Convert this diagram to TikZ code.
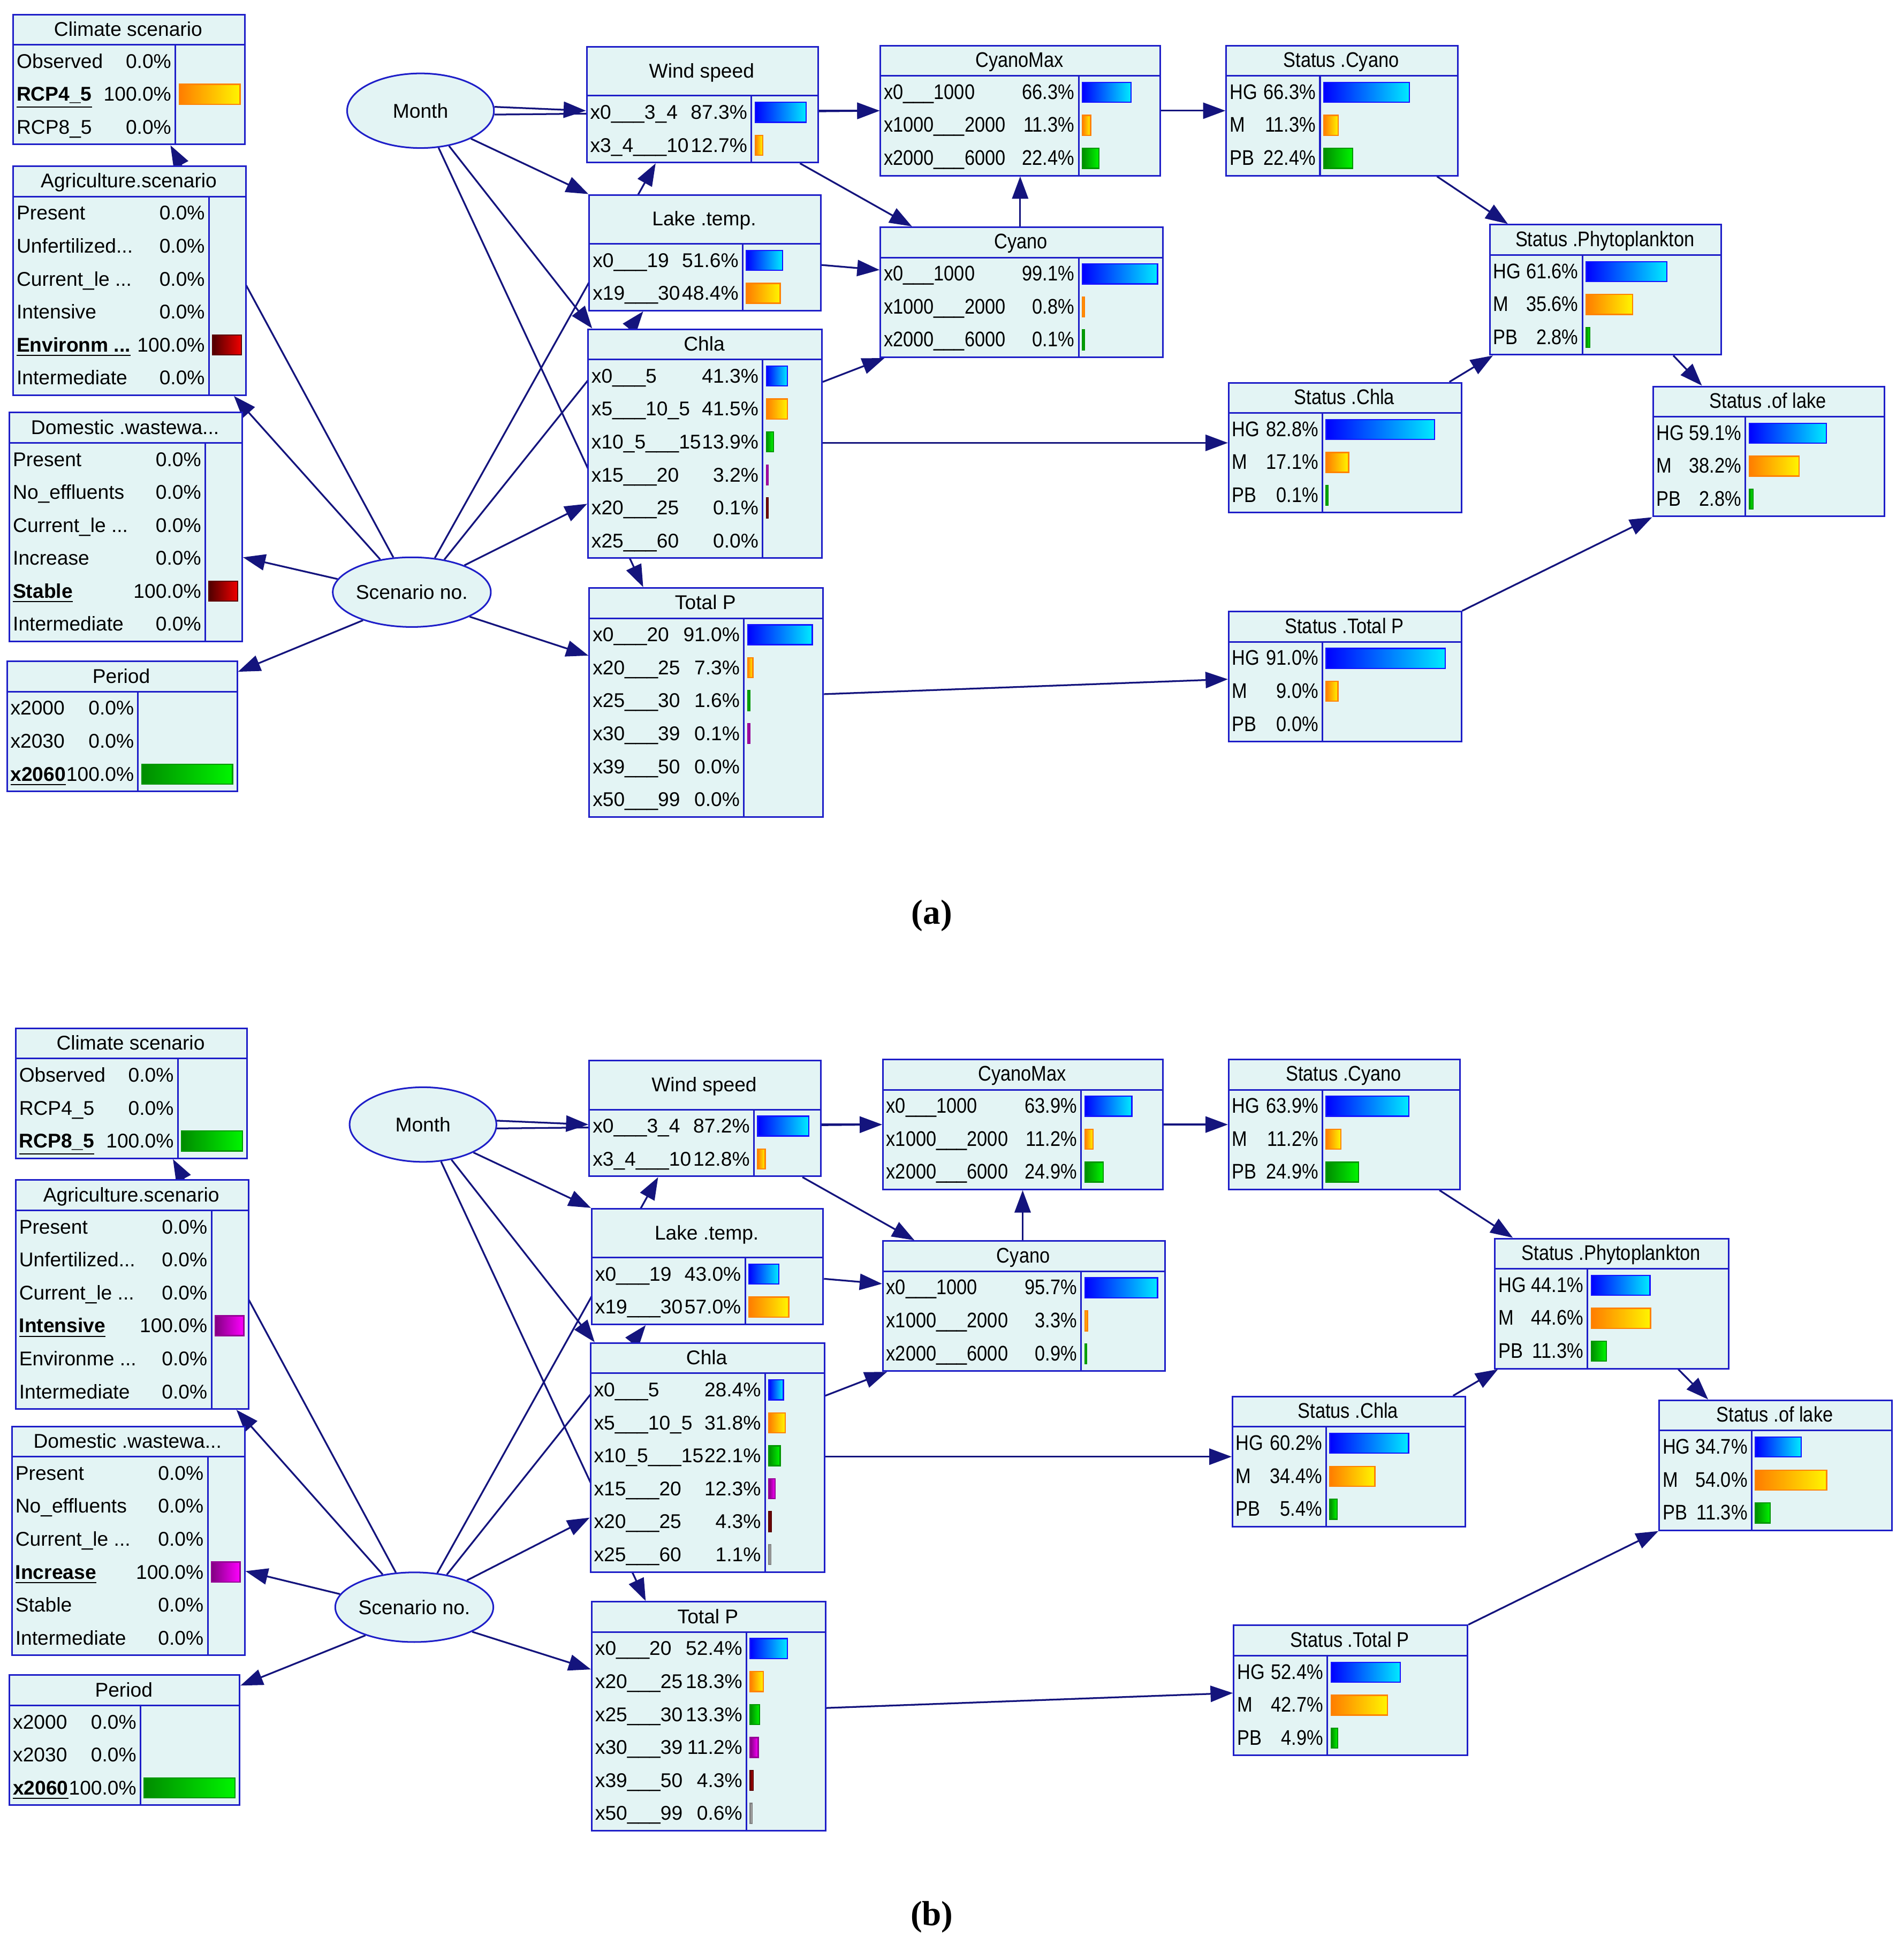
\documentclass[tikz,border=0pt]{standalone}
\usepackage{fontspec}
\setmainfont{Liberation Sans}
\newfontfamily\narrowf{Liberation Sans}[FakeStretch=0.87]
\newfontfamily\capf{Liberation Serif}
\usetikzlibrary{shapes.geometric,arrows.meta,calc,backgrounds}
\definecolor{boxfill}{RGB}{227,244,244}
\definecolor{boxdraw}{RGB}{30,30,200}
\definecolor{edgec}{RGB}{20,20,125}
\newcommand\fa{\fontsize{8}{9.6}\selectfont}
\newcommand\fn{\narrowf\fontsize{8.5}{10}\selectfont}
\let\bnf\fa
\newcommand\bu[1]{\underline{\textbf{#1}}}
\newcommand\ddd{...}
\newcommand\us{\_\_\_}
\def\ox{0}\def\oy{0}
\tikzset{
 bnbox/.style={draw=boxdraw,fill=boxfill,line width=0.65pt,rectangle,inner sep=0},
 bnline/.style={draw=boxdraw,line width=0.65pt},
 ell/.style={ellipse,draw=boxdraw,fill=boxfill,line width=0.65pt,font=\fa,minimum width=59pt,minimum height=30pt,inner sep=0},
 ed/.style={draw=edgec,line width=0.7pt},
 ar/.style={ed,-{Triangle[length=9pt,width=6.5pt]}},
 gb/.style={left color={rgb,255:red,0;green,0;blue,255},right color={rgb,255:red,0;green,235;blue,255},draw={rgb,255:red,20;green,20;blue,255},line width=0.5pt},
 go/.style={left color={rgb,255:red,255;green,125;blue,0},right color={rgb,255:red,255;green,245;blue,0},draw={rgb,255:red,255;green,130;blue,0},line width=0.5pt},
 gg/.style={left color={rgb,255:red,0;green,140;blue,0},right color={rgb,255:red,0;green,245;blue,0},draw={rgb,255:red,0;green,150;blue,0},line width=0.5pt},
 gp/.style={left color={rgb,255:red,130;green,0;blue,130},right color={rgb,255:red,255;green,0;blue,255},draw={rgb,255:red,150;green,0;blue,150},line width=0.5pt},
 gr/.style={left color={rgb,255:red,80;green,0;blue,0},right color={rgb,255:red,240;green,0;blue,0},draw={rgb,255:red,90;green,0;blue,0},line width=0.5pt},
 gs/.style={left color=gray!70,right color=gray!20,draw=gray,line width=0.5pt},
}
\newcommand\bn[9]{%
 \pgfmathsetmacro\bx{#2+\ox}\pgfmathsetmacro\by{#3+\oy}%
 \pgfmathsetmacro\bh{#6+#7*26.5}%
 \node[bnbox,anchor=north west,minimum width=#4*0.5pt,minimum height=\bh*0.5pt] (#1) at (\bx,\by) {};
 \draw[bnline] ({\bx},{\by+#6}) -- ++(#4,0);
 \draw[bnline] ({\bx+#5},{\by+#6}) -- ({\bx+#5},{\by+\bh});
 \node[font=\bnf,inner sep=0,anchor=base] at ({\bx+#4/2},{\by+#6/2+5.5}) {#8};
 \foreach \lab/\val/\col [count=\i] in {#9} {
   \pgfmathsetmacro\yc{\by+#6+(\i-0.5)*26.5}
   \node[font=\bnf,inner sep=0,anchor=base west] at ({\bx+3},{\yc+5.5}) {\lab};
   \node[font=\bnf,inner sep=0,anchor=base east] at ({\bx+#5-3},{\yc+5.5}) {\val\%};
   \ifdim\val pt>0pt
     \pgfmathsetmacro\bl{max(\val/100*(#4-#5-6),1.5)}
     \path[\col] ({\bx+#5+3},{\yc-8}) rectangle ++(\bl,16);
   \fi
 }}
\newcommand\edges[1]{%
 \draw[ar] (month#1.3) -- ($(wind#1.north west)+(0,52)$);
 \draw[ar] (month#1.-3) -- ($(cmax#1.north west)+(0,53)$);
 \draw[ar] ($(wind#1.north east)+(0,52)$) -- ($(cmax#1.north west)+(0,53)$);
 \draw[ar] (month#1.-29) -- (lake#1.north west);
 \draw[ar] (month#1.-51) -- ($(chla#1.north west)+(4,0)$);
 \draw[ar] (month#1.-64) -- ($(totp#1.north west)+(44,0)$);
 \draw[ar] (scen#1.118) -- ($(clim#1.south west)+(127,0)$);
 \draw[ar] (scen#1.134) -- ($(agri#1.south west)+(178,0)$);
 \draw[ar] (scen#1.170) -- ($(dom#1.north east)+(0,117)$);
 \draw[ar] (scen#1.210) -- ($(per#1.north east)+(0,9)$);
 \draw[ar] (scen#1.56) -- ($(wind#1.south west)+(56,0)$);
 \draw[ar] (scen#1.45) -- ($(lake#1.south west)+(44,0)$);
 \draw[ar] (scen#1.27) -- ($(chla#1.north west)+(0,141)$);
 \draw[ar] (scen#1.-23) -- ($(totp#1.north west)+(0,55)$);
 \draw[ar] ($(wind#1.south west)+(172,0)$) -- ($(cyano#1.north west)+(26,0)$);
 \draw[ar] ($(lake#1.north east)+(0,57)$) -- ($(cyano#1.north west)+(0,35)$);
 \draw[ar] ($(chla#1.north east)+(0,43)$) -- ($(cyano#1.south west)+(4,0)$);
 \draw[ar] ($(cyano#1.north west)+(113,0)$) -- ($(cmax#1.south west)+(113,0)$);
 \draw[ar] ($(cmax#1.north east)+(0,53)$) -- ($(scy#1.north west)+(0,53)$);
 \draw[ar] ($(scy#1.south west)+(170,0)$) -- ($(phy#1.north west)+(15,0)$);
 \draw[ar] ($(sch#1.north west)+(178,0)$) -- ($(phy#1.south west)+(3,0)$);
 \draw[ar] ($(phy#1.south west)+(148,0)$) -- ($(slk#1.north west)+(40,0)$);
 \draw[ar] ($(chla#1.north east)+(0,92)$) -- ($(sch#1.north west)+(0,49)$);
 \draw[ar] ($(totp#1.north east)+(0,86)$) -- ($(stp#1.north west)+(0,55)$);
 \draw[ar] (stp#1.north east) -- (slk#1.south west);
}
\begin{document}
\begin{tikzpicture}[x=0.5pt,y=-0.5pt]
\useasboundingbox (0,0) rectangle (1530,1570);
% ---------------- panel (a)
\def\ox{0}\def\oy{0}
\let\bnf\fa
\bn{clima}{10}{11}{186}{131}{25}{3}{Climate scenario}{Observed/0.0/gb, \bu{RCP4\_5}/100.0/go, RCP8\_5/0.0/gg}
\bn{agria}{10}{133}{187}{158}{25}{6}{Agriculture.scenario}{Present/0.0/gb, Unfertilized\ddd/0.0/go, Current\_le \ddd/0.0/gg, Intensive/0.0/gp, \bu{Environm \ddd}/100.0/gr, Intermediate/0.0/gs}
\bn{doma}{7}{331}{187}{158}{25}{6}{Domestic .wastewa...}{Present/0.0/gb, No\_effluents/0.0/go, Current\_le \ddd/0.0/gg, Increase/0.0/gp, \bu{Stable}/100.0/gr, Intermediate/0.0/gs}
\bn{pera}{5}{531}{185}{106}{25}{3}{Period}{x2000/0.0/gb, x2030/0.0/go, \bu{x2060}/100.0/gg}
\bn{winda}{471}{37}{186}{133}{40}{2}{Wind speed}{x0\us3\_4/87.3/gb, x3\_4\us10/12.7/go}
\bn{lakea}{473}{156}{186}{124}{40}{2}{Lake .temp.}{x0\us19/51.6/gb, x19\us30/48.4/go}
\bn{chlaa}{472}{264}{188}{141}{25}{6}{Chla}{x0\us5/41.3/gb, x5\us10\_5/41.5/go, x10\_5\us15/13.9/gg, x15\us20/3.2/gp, x20\us25/0.1/gr, x25\us60/0.0/gs}
\bn{totpa}{473}{472}{188}{125}{25}{6}{Total P}{x0\us20/91.0/gb, x20\us25/7.3/go, x25\us30/1.6/gg, x30\us39/0.1/gp, x39\us50/0.0/gr, x50\us99/0.0/gs}
\let\bnf\fn
\bn{cmaxa}{707}{36}{225}{160}{25}{3}{CyanoMax}{x0\us1000/66.3/gb, x1000\us2000/11.3/go, x2000\us6000/22.4/gg}
\bn{cyanoa}{707}{182}{227}{160}{25}{3}{Cyano}{x0\us1000/99.1/gb, x1000\us2000/0.8/go, x2000\us6000/0.1/gg}
\bn{scya}{985}{36}{186}{76}{25}{3}{Status .Cyano}{HG/66.3/gb, M/11.3/go, PB/22.4/gg}
\bn{phya}{1197}{180}{186}{75}{25}{3}{Status .Phytoplankton}{HG/61.6/gb, M/35.6/go, PB/2.8/gg}
\bn{scha}{987}{307}{187}{76}{25}{3}{Status .Chla}{HG/82.8/gb, M/17.1/go, PB/0.1/gg}
\bn{slka}{1328}{310}{186}{75}{25}{3}{Status .of lake}{HG/59.1/gb, M/38.2/go, PB/2.8/gg}
\bn{stpa}{987}{491}{187}{76}{25}{3}{Status .Total P}{HG/91.0/gb, M/9.0/go, PB/0.0/gg}
\node[ell] (montha) at (338,89) {Month};
\node[ell,minimum width=58pt,minimum height=28pt] (scena) at (331,476) {Scenario no.};
\node[font=\capf\bfseries\fontsize{14}{16}\selectfont] (capa) at (749,736) {(a)};
% ---------------- panel (b)
\def\ox{2}\def\oy{815}
\let\bnf\fa
\bn{climb}{10}{11}{186}{131}{25}{3}{Climate scenario}{Observed/0.0/gb, RCP4\_5/0.0/go, \bu{RCP8\_5}/100.0/gg}
\bn{agrib}{10}{133}{187}{158}{25}{6}{Agriculture.scenario}{Present/0.0/gb, Unfertilized\ddd/0.0/go, Current\_le \ddd/0.0/gg, \bu{Intensive}/100.0/gp, Environme \ddd/0.0/gr, Intermediate/0.0/gs}
\bn{domb}{7}{331}{187}{158}{25}{6}{Domestic .wastewa...}{Present/0.0/gb, No\_effluents/0.0/go, Current\_le \ddd/0.0/gg, \bu{Increase}/100.0/gp, Stable/0.0/gr, Intermediate/0.0/gs}
\bn{perb}{5}{531}{185}{106}{25}{3}{Period}{x2000/0.0/gb, x2030/0.0/go, \bu{x2060}/100.0/gg}
\bn{windb}{471}{37}{186}{133}{40}{2}{Wind speed}{x0\us3\_4/87.2/gb, x3\_4\us10/12.8/go}
\bn{lakeb}{473}{156}{186}{124}{40}{2}{Lake .temp.}{x0\us19/43.0/gb, x19\us30/57.0/go}
\bn{chlab}{472}{264}{188}{141}{25}{6}{Chla}{x0\us5/28.4/gb, x5\us10\_5/31.8/go, x10\_5\us15/22.1/gg, x15\us20/12.3/gp, x20\us25/4.3/gr, x25\us60/1.1/gs}
\bn{totpb}{473}{472}{188}{125}{25}{6}{Total P}{x0\us20/52.4/gb, x20\us25/18.3/go, x25\us30/13.3/gg, x30\us39/11.2/gp, x39\us50/4.3/gr, x50\us99/0.6/gs}
\let\bnf\fn
\bn{cmaxb}{707}{36}{225}{160}{25}{3}{CyanoMax}{x0\us1000/63.9/gb, x1000\us2000/11.2/go, x2000\us6000/24.9/gg}
\bn{cyanob}{707}{182}{227}{160}{25}{3}{Cyano}{x0\us1000/95.7/gb, x1000\us2000/3.3/go, x2000\us6000/0.9/gg}
\bn{scyb}{985}{36}{186}{76}{25}{3}{Status .Cyano}{HG/63.9/gb, M/11.2/go, PB/24.9/gg}
\bn{phyb}{1199}{180}{188}{75}{25}{3}{Status .Phytoplankton}{HG/44.1/gb, M/44.6/go, PB/11.3/gg}
\bn{schb}{988}{307}{187}{76}{25}{3}{Status .Chla}{HG/60.2/gb, M/34.4/go, PB/5.4/gg}
\bn{slkb}{1331}{310}{187}{75}{25}{3}{Status .of lake}{HG/34.7/gb, M/54.0/go, PB/11.3/gg}
\bn{stpb}{989}{491}{188}{76}{25}{3}{Status .Total P}{HG/52.4/gb, M/42.7/go, PB/4.9/gg}
\node[ell] (monthb) at (340,904) {Month};
\node[ell,minimum width=58pt,minimum height=28pt] (scenb) at (333,1292) {Scenario no.};
\node[font=\capf\bfseries\fontsize{14}{16}\selectfont] (capb) at (749,1541) {(b)};
\begin{pgfonlayer}{background}
\edges{a}
\edges{b}
\end{pgfonlayer}
\end{tikzpicture}
\end{document}
